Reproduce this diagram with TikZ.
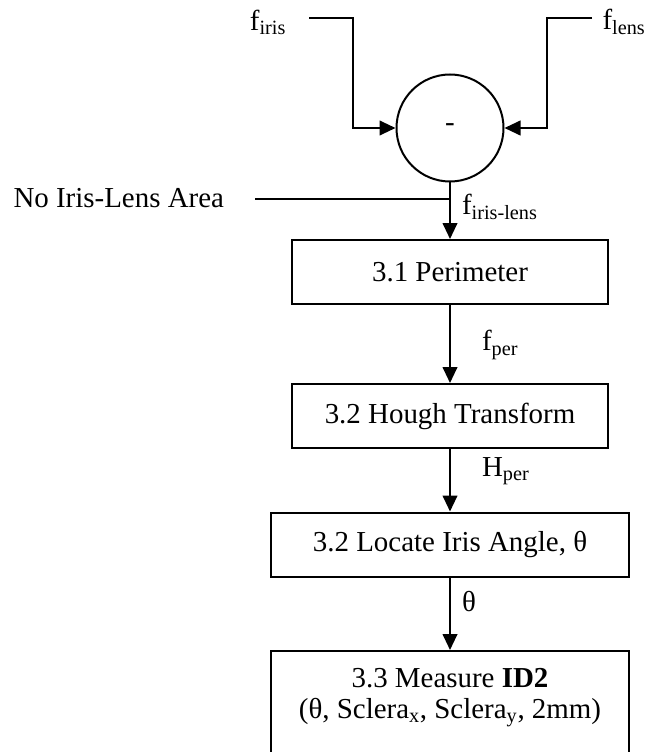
\documentclass[tikz,border=0pt]{standalone}
\usepackage{fontspec}
\setmainfont{Liberation Serif}
\usetikzlibrary{arrows.meta}

\begin{document}
\begin{tikzpicture}
[x=0.75pt,y=-0.75pt,
 line width=1.5pt,
 font=\fontsize{21.7}{26}\selectfont,
 flow/.style={-{Triangle[length=12pt,width=11pt]}},
 procbox/.style={draw,rectangle,inner sep=0pt,minimum height=48pt},
 lbl/.style={anchor=west,inner sep=0pt}
]
\useasboundingbox (0,0) rectangle (648,752);

% difference of the two images
\node[draw,circle,minimum size=80.25pt,inner sep=0pt] (sub) at (450,128) {-};

\coordinate (irisin) at (309,18);
\coordinate (irisbend) at (353,18);
\coordinate (lensin) at (592,18);
\coordinate (lensbend) at (547,18);
\node (firis) at (268,22) {f\textsubscript{iris}};
\node (flens) at (624,22) {f\textsubscript{lens}};
\draw[flow] (irisin) -- (irisbend) |- (sub.west);
\draw[flow] (lensin) -- (lensbend) |- (sub.east);

% no overlap input
\node[anchor=east,inner sep=0pt] (noarea) at (225,198) {No Iris-Lens Area};
\coordinate (noareaend) at (255,199);
\draw (noareaend) -- (noareaend -| sub.south);

% processing steps
\node[procbox,minimum width=237pt] (perim) at (450,272) {3.1 Perimeter};
\node[procbox,minimum width=237pt] (hough) at (450,416) {3.2 Hough Transform};
\node[procbox,minimum width=268.5pt] (angle) at (450,544.5) {3.2 Locate Iris Angle, θ};
\node[procbox,minimum width=268.5pt,minimum height=96.75pt] (measure) at (450,715.5) {};% bottom runs off the page
\node[align=center] (measuretxt) at (450,698) {3.3 Measure \textbf{ID2}\\[-3pt](θ, Sclera\textsubscript{x}, Sclera\textsubscript{y}, 2mm)};

\draw[flow] (sub.south) -- (perim.north);
\draw[flow] (perim) -- (hough);
\draw[flow] (hough) -- (angle);
\draw[flow] (angle) -- (measure);

% signal labels
\node[lbl] (firislens) at (461,207) {f\textsubscript{iris-lens}};
\node[lbl] (fper) at (481,345) {f\textsubscript{per}};
\node[lbl] (hper) at (481,471) {H\textsubscript{per}};
\node[lbl] (theta) at (461,602) {θ};

\end{tikzpicture}
\end{document}
